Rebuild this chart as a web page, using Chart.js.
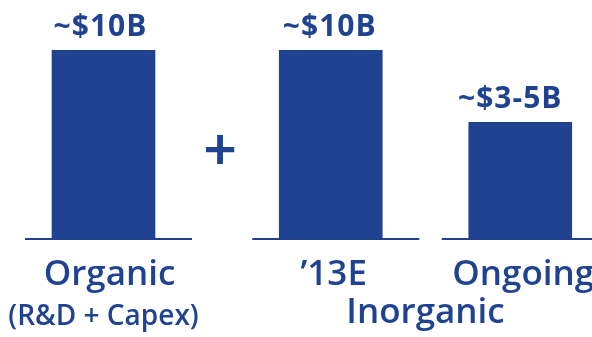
<!DOCTYPE html>
<html>
<head>
<meta charset="utf-8">
<script src="https://cdn.jsdelivr.net/npm/chart.js@4/dist/chart.umd.min.js"></script>
<style>
  html, body { margin: 0; padding: 0; width: 592px; height: 337px; overflow: hidden; background: #fff; }
  .panel { position: absolute; top: 0; height: 337px; }
  #organicPanel { left: 0; width: 207px; }
  #inorganicPanel { left: 236px; width: 379px; }
  #plus {
    position: absolute; left: 190px; top: 112px; width: 60px; height: 70px;
    line-height: 70px; text-align: center; color: #1f4391;
    font: 700 58px Lato, sans-serif; z-index: 2;
  }
</style>
</head>
<body>
<div class="panel" id="organicPanel"><canvas id="organicChart"></canvas></div>
<div id="plus">+</div>
<div class="panel" id="inorganicPanel"><canvas id="inorganicChart"></canvas></div>

<script>
// Datos
const ORGANIC_CATEGORIES = ['Organic'];
const ORGANIC_VALUES = [10];
const ORGANIC_LABELS = ['~$10B'];

const INORGANIC_CATEGORIES = ['\u201913E', 'Ongoing'];
const INORGANIC_VALUES = [10, 5];
const INORGANIC_LABELS = ['~$10B', '~$3-5B'];

// escala vertical compartida (la base no es cero, como en la lámina)
const AXIS_FLOOR = -3.1;
const AXIS_CEIL = 13.5;

const BLUE = '#1f4391';
const FONT = '"Open Sans", sans-serif';

// Dibuja la línea base de cada barra y el importe encima
const barDecorations = {
    id: 'barDecorations',
    afterDatasetsDraw(chart, args, opts) {
        const { ctx } = chart;
        const meta = chart.getDatasetMeta(0);
        const baseY = chart.scales.y.getPixelForValue(AXIS_FLOOR);

        ctx.save();
        ctx.strokeStyle = BLUE;
        ctx.lineWidth = 2;
        ctx.fillStyle = BLUE;
        ctx.font = `bold ${opts.fontSize}px ${FONT}`;
        ctx.letterSpacing = '1px';
        ctx.textAlign = 'center';
        ctx.textBaseline = 'alphabetic';

        meta.data.forEach((bar, i) => {
            const half = bar.width / 2;
            ctx.beginPath();
            ctx.moveTo(bar.x - half - opts.extendLeft, baseY);
            ctx.lineTo(bar.x + half + opts.extendRight, baseY);
            ctx.stroke();

            ctx.fillText(opts.labels[i], bar.x - opts.shift[i], bar.y - opts.gap);
        });
        ctx.restore();
    }
};

function buildChart(canvasId, categories, values, valueLabels, labelShift, tickShift, subtitle, subtitleSize) {
    const ctx = document.getElementById(canvasId).getContext('2d');
    return new Chart(ctx, {
        type: 'bar',
        data: {
            labels: categories,
            datasets: [{
                data: values,
                backgroundColor: BLUE,
                base: AXIS_FLOOR,
                barThickness: 103
            }]
        },
        options: {
            responsive: true,
            maintainAspectRatio: false,
            animation: false,
            layout: { padding: 0 },
            plugins: {
                legend: { display: false },
                tooltip: { enabled: false },
                barDecorations: { labels: valueLabels, shift: labelShift, fontSize: 30, gap: 14, extendLeft: 27, extendRight: 37 }
            },
            scales: {
                x: {
                    grid: { display: false, drawTicks: false },
                    border: { display: false },
                    ticks: {
                        color: BLUE,
                        font: { family: FONT, size: 35, weight: '600', lineHeight: 1 },
                        padding: 19,
                        labelOffset: tickShift,
                        maxRotation: 0,
                        autoSkip: false
                    },
                    title: {
                        display: true,
                        text: subtitle,
                        color: BLUE,
                        font: { family: FONT, size: subtitleSize, weight: '600', lineHeight: 1 },
                        padding: { top: 0, bottom: 6 }
                    },
                    afterFit: (scale) => { scale.height = 98; }
                },
                y: { display: false, min: AXIS_FLOOR, max: AXIS_CEIL }
            }
        },
        plugins: [barDecorations]
    });
}

buildChart('organicChart', ORGANIC_CATEGORIES, ORGANIC_VALUES, ORGANIC_LABELS, [3], 6, '(R&D + Capex)', 28);
buildChart('inorganicChart', INORGANIC_CATEGORIES, INORGANIC_VALUES, INORGANIC_LABELS, [1, 10], 3, 'Inorganic', 35);
</script>
</body>
</html>
